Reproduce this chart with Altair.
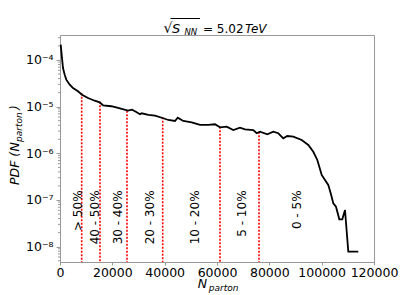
import altair as alt
import pandas as pd

# ---- data ----
n_parton = [268, 764, 1147, 1796, 2408, 3707, 4968, 6879, 8408, 10701,
            13261, 15172, 16433, 19605, 22166, 25988, 27516, 29160, 30574, 31223,
            33746, 36306, 39478, 41389, 43950, 44981, 47121, 50332, 53503, 56675,
            59236, 61146, 63707, 66229, 68790, 70701, 73873, 75172, 76433, 79223,
            81516, 83427, 85338, 86866, 89159, 92370, 94892, 96803, 98332, 99096,
            100013, 101275, 102535, 103452, 104446, 105478, 106739, 107886, 108917, 110178,
            114000]
pdf_vals = [2.13e-4, 1.10e-4, 6.74e-5, 4.84e-5, 3.79e-5, 2.96e-5, 2.51e-5, 2.13e-5, 1.80e-5, 1.53e-5,
            1.34e-5, 1.24e-5, 1.07e-5, 1.02e-5, 9.36e-6, 8.20e-6, 8.61e-6, 7.69e-6, 6.87e-6, 7.21e-6,
            6.64e-6, 6.41e-6, 5.64e-6, 5.18e-6, 4.93e-6, 5.81e-6, 4.93e-6, 4.62e-6, 4.05e-6, 4.05e-6,
            4.19e-6, 3.61e-6, 3.72e-6, 3.16e-6, 3.54e-6, 3.27e-6, 3.16e-6, 2.69e-6, 2.91e-6, 2.56e-6,
            2.91e-6, 2.69e-6, 2.10e-6, 2.35e-6, 2.28e-6, 1.93e-6, 1.51e-6, 1.08e-6, 7.20e-7, 5.18e-7,
            3.44e-7, 2.69e-7, 2.10e-7, 1.39e-7, 8.49e-8, 7.19e-8, 3.86e-8, 3.86e-8, 6.11e-8, 7.80e-9,
            7.80e-9]

cut_n = [8290, 15290, 25600, 39250, 61150, 76050]
cut_top = [1.94e-5, 1.28e-5, 8.2e-6, 5.9e-6, 3.7e-6, 2.9e-6]

class_labels = ["> 50%", "40 - 50%", "30 - 40%", "20 - 30%", "10 - 20%", "5 - 10%", "0 - 5%"]
class_n = [6990, 13380, 22280, 34400, 51600, 69440, 90690]
class_y = [1.6e-7] * 7

x_ticks = [0, 20000, 40000, 60000, 80000, 100000, 120000]
y_ticks = [1e-8, 1e-7, 1e-6, 1e-5, 1e-4]
minor_ticks = [k * 10.0 ** e for e in range(-9, -3) for k in range(2, 10)
               if 4.7e-9 <= k * 10.0 ** e <= 3.4e-4]

FONT = "DejaVu Sans"
AX = "#999999"
W, H = 314, 227

curve_df = pd.DataFrame({"N": n_parton, "pdf": pdf_vals})
cut_df = pd.DataFrame({"N": cut_n, "top": cut_top})
lab_df = pd.DataFrame({"N": class_n, "y": class_y, "t": class_labels})
minor_df = pd.DataFrame({"v": minor_ticks})

xs = alt.Scale(domain=[0, 120000], nice=False, zero=False)
ys = alt.Scale(type="log", domain=[4.69e-9, 3.43e-4], nice=False)

label_expr = ("datum.value > 5e-5 ? '10⁻⁴' : datum.value > 5e-6 ? '10⁻⁵' : "
              "datum.value > 5e-7 ? '10⁻⁶' : datum.value > 5e-8 ? '10⁻⁷' : '10⁻⁸'")

curve = alt.Chart(curve_df).mark_line(color="black", strokeWidth=1.8).encode(
    x=alt.X("N:Q", scale=xs,
            axis=alt.Axis(values=x_ticks, format="d", title=None, grid=False,
                          labelFont=FONT, labelFontSize=12.5, labelColor="black",
                          tickSize=3, labelPadding=1, domainColor=AX, tickColor=AX,
                          labelFlush=False)),
    y=alt.Y("pdf:Q", scale=ys,
            axis=alt.Axis(values=y_ticks, labelExpr=label_expr, title=None, grid=False,
                          labelFont=FONT, labelFontSize=12.5, labelColor="black",
                          tickSize=4, labelPadding=3, domainColor=AX, tickColor=AX,
                          labelFlush=False)),
)

cuts = alt.Chart(cut_df).mark_rule(color="red", strokeWidth=1.6, strokeDash=[2, 1.5]).encode(
    x=alt.X("N:Q", scale=xs),
    y=alt.Y("top:Q", scale=ys),
    y2=alt.value(H),
)

labels = alt.Chart(lab_df).mark_text(
    angle=270, align="right", baseline="middle", font=FONT, fontSize=12, color="black"
).encode(
    x=alt.X("N:Q", scale=xs),
    y=alt.Y("y:Q", scale=ys),
    text="t:N",
)

minor = alt.Chart(minor_df).mark_rule(color=AX, strokeWidth=1).encode(
    y=alt.Y("v:Q", scale=ys),
    x=alt.value(-2),
    x2=alt.value(0),
)

one = pd.DataFrame({"a": [0]})


def txt(s, x, y, size=13, style="normal", angle=0, align="left"):
    return alt.Chart(one).mark_text(
        text=s, font=FONT, fontSize=size, fontStyle=style, color="black",
        align=align, baseline="alphabetic", angle=angle
    ).encode(x=alt.value(x), y=alt.value(y))


title_parts = [
    txt("√", 103.5, -2, size=14),
    txt("S", 112, -2.5, size=13, style="italic"),
    txt("NN", 124.5, 0, size=8.5, style="italic"),
    txt("= 5.02", 143, -2.5, size=12),
    txt("TeV", 206.5, -2.5, size=12, style="italic", align="right"),
]
overline = alt.Chart(one).mark_rule(color="black", strokeWidth=1).encode(
    x=alt.value(110.5), x2=alt.value(140), y=alt.value(-16.5)
)

xtitle = [
    txt("N", 137.7, 253, size=12.5, style="italic"),
    txt("parton", 148.7, 256, size=9, style="italic"),
]
ytitle = [
    txt("PDF (", -41.5, 150, size=12.5, style="italic", angle=270),
    txt("N", -41.5, 116.5, size=12.5, style="italic", angle=270),
    txt("parton", -38.5, 107, size=9, style="italic", angle=270),
    txt(")", -41.5, 75, size=12.5, style="italic", angle=270),
]

chart = alt.layer(
    cuts, curve, labels, minor, overline, *title_parts, *xtitle, *ytitle
).properties(
    width=W, height=H,
    autosize=alt.AutoSizeParams(type="none"),
    padding={"left": 52, "top": 27, "right": 33, "bottom": 31},
).configure_view(stroke=AX, strokeWidth=1)

chart.save("out.html", embed_options={"renderer": "svg", "actions": False})
